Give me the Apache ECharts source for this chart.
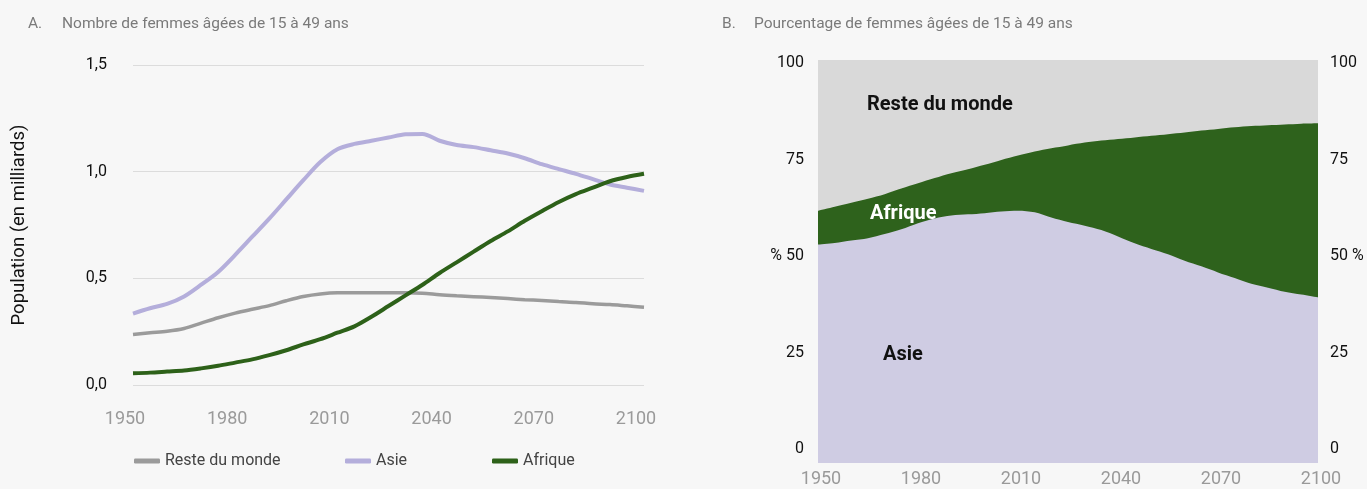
<!DOCTYPE html>
<html>
<head>
    <meta charset="utf-8">
    <title>Femmes âgées de 15 à 49 ans</title>
    <script src="https://cdn.jsdelivr.net/npm/echarts@6/dist/echarts.min.js"></script>
    <style>
        html, body { margin: 0; padding: 0; background: #f7f7f7; }
    </style>
</head>
<body>
    <div id="main" style="width: 1367px;height: 489px;"></div>
    <script type="text/javascript">
        // années (pas de 5 ans)
        var years = [1950, 1955, 1960, 1965, 1970, 1975, 1980, 1985, 1990, 1995, 2000, 2005, 2010, 2015, 2020, 2025,
                     2030, 2035, 2040, 2045, 2050, 2055, 2060, 2065, 2070, 2075, 2080, 2085, 2090, 2095, 2100];

        // A. nombre (en milliards)
        var resteNombre = [0.237, 0.245, 0.252, 0.265, 0.290, 0.315, 0.337, 0.355, 0.372, 0.395, 0.415, 0.427, 0.432, 0.432, 0.432, 0.432,
                           0.432, 0.430, 0.423, 0.418, 0.414, 0.410, 0.405, 0.400, 0.396, 0.391, 0.387, 0.381, 0.377, 0.371, 0.365];
        var asieNombre = [0.335, 0.360, 0.380, 0.415, 0.470, 0.530, 0.610, 0.695, 0.780, 0.870, 0.960, 1.045, 1.105, 1.130, 1.145, 1.160,
                          1.175, 1.177, 1.145, 1.125, 1.115, 1.100, 1.085, 1.063, 1.035, 1.012, 0.990, 0.965, 0.940, 0.925, 0.910];
        var afriqueNombre = [0.055, 0.058, 0.063, 0.068, 0.078, 0.090, 0.105, 0.120, 0.140, 0.163, 0.190, 0.215, 0.245, 0.275, 0.320, 0.370,
                             0.420, 0.470, 0.525, 0.575, 0.625, 0.675, 0.720, 0.770, 0.815, 0.858, 0.895, 0.925, 0.955, 0.975, 0.990];

        // B. pourcentage
        var asiePct = [54.2, 54.6, 55.2, 55.8, 56.8, 58.0, 59.5, 60.7, 61.4, 61.7, 62.0, 62.4, 62.6, 62.2, 60.9, 59.8,
                       58.9, 57.8, 56.2, 54.5, 53.1, 51.8, 50.2, 48.8, 47.3, 45.9, 44.5, 43.5, 42.5, 41.8, 41.1];
        var afriquePct = [8.4, 9.0, 9.4, 9.8, 9.9, 10.1, 9.9, 10.0, 10.5, 11.2, 12.0, 12.8, 13.7, 15.1, 17.2, 19.0,
                          20.6, 22.2, 24.2, 26.3, 28.1, 29.8, 31.8, 33.7, 35.6, 37.4, 39.1, 40.3, 41.5, 42.4, 43.2];
        var restePct = [37.4, 36.4, 35.4, 34.4, 33.3, 31.9, 30.6, 29.3, 28.1, 27.1, 26.0, 24.8, 23.7, 22.7, 21.9, 21.2,
                        20.5, 20.0, 19.6, 19.2, 18.8, 18.4, 18.0, 17.5, 17.1, 16.7, 16.4, 16.2, 16.0, 15.8, 15.7];

        var FONT = "Roboto, 'Noto Sans', sans-serif";

        function pairs(vals) {
            return vals.map(function (v, i) { return [years[i], v]; });
        }
        // sommes cumulées pour l'aire empilée (chaque aire part de 0, la suivante recouvre)
        function cumul() {
            var lists = arguments;
            return years.map(function (y, i) {
                var s = 0;
                for (var k = 0; k < lists.length; k++) s += lists[k][i];
                return [y, +s.toFixed(2)];
            });
        }

        var myChart = echarts.init(document.getElementById('main'));

        var titleStyle = { fontSize: 15.5, fontWeight: 'normal', color: '#7a7a7a', fontFamily: FONT };

        var option = {
            backgroundColor: '#f7f7f7',
            textStyle: { fontFamily: FONT },
            title: [
                { text: 'A.', left: 23, top: 11, textStyle: titleStyle },
                { text: 'Nombre de femmes âgées de 15 à 49 ans', left: 57, top: 11, textStyle: titleStyle },
                { text: 'B.', left: 717, top: 11, textStyle: titleStyle },
                { text: 'Pourcentage de femmes âgées de 15 à 49 ans', left: 749, top: 11, textStyle: titleStyle }
            ],
            legend: [
                { data: ['Reste du monde'], left: 129, top: 448 },
                { data: ['Asie'], left: 340, top: 448 },
                { data: ['Afrique'], left: 487, top: 448 }
            ].map(function (l) {
                l.icon = 'roundRect';
                l.itemWidth = 26;
                l.itemHeight = 5;
                l.textStyle = { fontSize: 16, color: '#444', fontFamily: FONT };
                return l;
            }),
            grid: [
                { left: 133, right: 723, top: 65, bottom: 104 },
                { left: 818, right: 49, top: 60, bottom: 26 },
                // grille des graduations du panneau B (étiquettes un peu resserrées)
                { left: 818, right: 49, top: 63, bottom: 40 }
            ],
            xAxis: [{
                gridIndex: 0, type: 'value', min: 1950, max: 2100, interval: 30,
                axisLine: { show: false }, axisTick: { show: false }, splitLine: { show: false },
                axisLabel: { fontSize: 18, color: '#9a9a9a', margin: 25, padding: [0, 16, 0, 0], fontFamily: FONT,
                             formatter: function (v) { return String(v); } }
            }, {
                gridIndex: 1, type: 'value', min: 1950, max: 2100, interval: 30,
                axisLine: { show: false }, axisTick: { show: false }, splitLine: { show: false },
                axisLabel: { fontSize: 18, color: '#9a9a9a', margin: 7, padding: [0, 0, 0, 6], fontFamily: FONT,
                             formatter: function (v) { return String(v); } }
            }, {
                gridIndex: 2, type: 'value', min: 1950, max: 2100, show: false
            }],
            yAxis: [{
                gridIndex: 0, type: 'value', min: 0, max: 1.5, interval: 0.5,
                name: 'Population (en milliards)', nameLocation: 'middle', nameGap: 104,
                nameTextStyle: { fontSize: 18.5, color: '#111', fontFamily: FONT },
                axisLine: { show: false }, axisTick: { show: false },
                splitLine: { lineStyle: { color: '#dcdcdc', width: 1 } },
                axisLabel: {
                    fontSize: 16, color: '#111', margin: 26, fontFamily: FONT,
                    formatter: function (v) { return v.toFixed(1).replace('.', ','); }
                }
            }, {
                gridIndex: 1, type: 'value', min: 0, max: 100, show: false
            }, {
                gridIndex: 2, type: 'value', min: 0, max: 100, interval: 25,
                axisLine: { show: false }, axisTick: { show: false }, splitLine: { show: false },
                axisLabel: {
                    fontSize: 16, color: '#111', margin: 14, fontFamily: FONT,
                    formatter: function (v) { return v === 50 ? '% 50' : String(v); }
                }
            }, {
                gridIndex: 2, type: 'value', min: 0, max: 100, interval: 25, position: 'right',
                axisLine: { show: false }, axisTick: { show: false }, splitLine: { show: false },
                axisLabel: {
                    fontSize: 16, color: '#111', margin: 12, fontFamily: FONT,
                    formatter: function (v) { return v === 50 ? '50 %' : String(v); }
                }
            }],
            series: [{
                name: 'Reste du monde', type: 'line', xAxisIndex: 0, yAxisIndex: 0,
                data: pairs(resteNombre), smooth: 0.3, showSymbol: false,
                itemStyle: { color: '#9b9b9b' }, lineStyle: { color: '#9b9b9b', width: 3.5 }
            }, {
                name: 'Asie', type: 'line', xAxisIndex: 0, yAxisIndex: 0,
                data: pairs(asieNombre), smooth: 0.3, showSymbol: false,
                itemStyle: { color: '#b4aedb' }, lineStyle: { color: '#b4aedb', width: 4 }
            }, {
                name: 'Afrique', type: 'line', xAxisIndex: 0, yAxisIndex: 0,
                data: pairs(afriqueNombre), smooth: 0.3, showSymbol: false,
                itemStyle: { color: '#2d6119' }, lineStyle: { color: '#2d6119', width: 4 }
            }, {
                name: 'Reste %', type: 'line', xAxisIndex: 1, yAxisIndex: 1,
                data: cumul(asiePct, afriquePct, restePct), smooth: 0.3, showSymbol: false,
                lineStyle: { width: 0 }, areaStyle: { color: '#d9d9d9', opacity: 1, origin: 'start' }
            }, {
                name: 'Afrique %', type: 'line', xAxisIndex: 1, yAxisIndex: 1,
                data: cumul(asiePct, afriquePct), smooth: 0.3, showSymbol: false,
                lineStyle: { width: 0 }, areaStyle: { color: '#2e621c', opacity: 1, origin: 'start' }
            }, {
                name: 'Asie %', type: 'line', xAxisIndex: 1, yAxisIndex: 1,
                data: cumul(asiePct), smooth: 0.3, showSymbol: false,
                lineStyle: { width: 0 }, areaStyle: { color: '#cfcce3', opacity: 1, origin: 'start' }
            }],
            graphic: [
                { type: 'text', left: 867, top: 95, z: 100, style: { text: 'Reste du monde', fontSize: 20, fontWeight: 'bold', fill: '#111', fontFamily: FONT } },
                { type: 'text', left: 870, top: 204, z: 100, style: { text: 'Afrique', fontSize: 20, fontWeight: 'bold', fill: '#fff', fontFamily: FONT } },
                { type: 'text', left: 883, top: 345, z: 100, style: { text: 'Asie', fontSize: 20, fontWeight: 'bold', fill: '#111', fontFamily: FONT } }
            ]
        };

        myChart.setOption(option);
    </script>
</body>
</html>
